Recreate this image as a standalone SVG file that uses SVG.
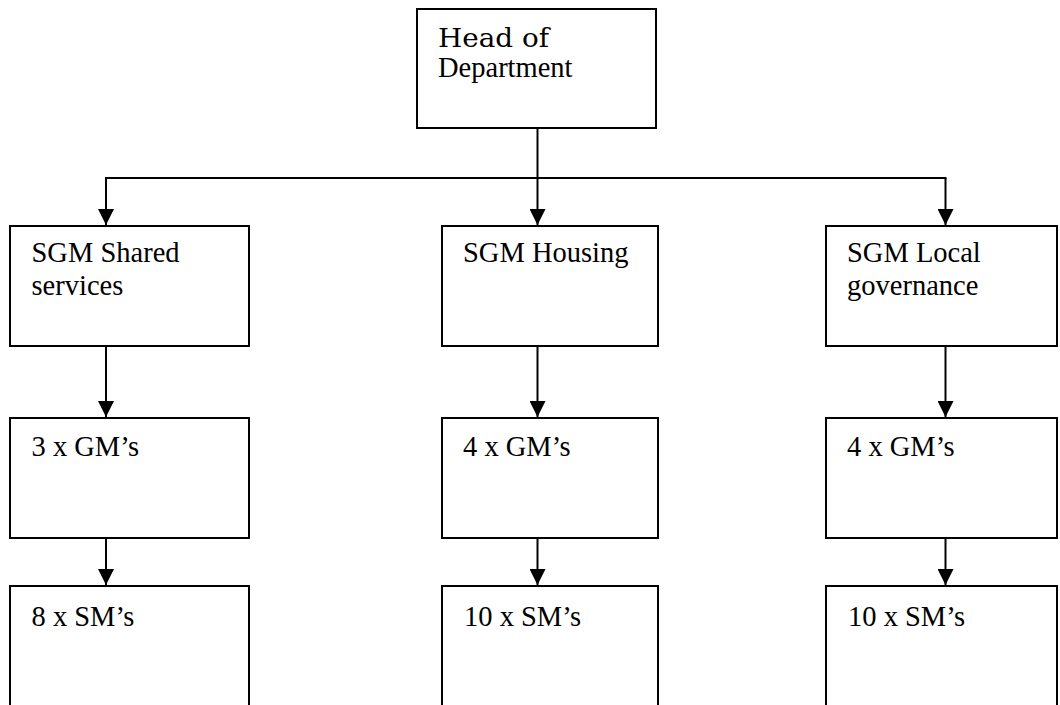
<svg xmlns="http://www.w3.org/2000/svg" width="1060" height="705" viewBox="0 0 1060 705">
<style>
.box{fill:#fff;stroke:#000;stroke-width:2}
.t{font-family:"Liberation Serif","Times New Roman",serif;font-size:28.5px;fill:#000}
.w{font-family:"DejaVu Serif","Liberation Serif",serif;font-size:26.5px;fill:#000}
.c{fill:none;stroke:#000;stroke-width:2}
</style>
<defs>
<marker id="ah" viewBox="0 0 16 16" refX="16" refY="8" markerWidth="16" markerHeight="16" markerUnits="userSpaceOnUse" orient="auto">
<path d="M0,0 L16,8 L0,16 Z" fill="#000"/>
</marker>
</defs>
<rect width="1060" height="705" fill="#fff"/>
<g id="connectors">
<line class="c" x1="537.5" y1="128" x2="537.5" y2="178"/>
<line class="c" x1="105" y1="178" x2="946.5" y2="178"/>
<path class="c" d="M106,178 V225" marker-end="url(#ah)"/>
<path class="c" d="M537.5,178 V225" marker-end="url(#ah)"/>
<path class="c" d="M945.5,178 V225" marker-end="url(#ah)"/>
<path class="c" d="M106,346 V417" marker-end="url(#ah)"/>
<path class="c" d="M537.5,346 V417" marker-end="url(#ah)"/>
<path class="c" d="M945.5,346 V417" marker-end="url(#ah)"/>
<path class="c" d="M106,538 V585" marker-end="url(#ah)"/>
<path class="c" d="M537.5,538 V585" marker-end="url(#ah)"/>
<path class="c" d="M945.5,538 V585" marker-end="url(#ah)"/>
</g>
<g id="head">
<rect class="box" x="417" y="9" width="239" height="119"/>
<text class="w" x="438" y="46.5" textLength="111" lengthAdjust="spacingAndGlyphs">Head of</text>
<text class="t" x="438" y="76.5">Department</text>
</g>
<g id="sgm-shared">
<rect class="box" x="10" y="226" width="239" height="120"/>
<text class="t" x="31.5" y="261.5">SGM Shared</text>
<text class="t" x="31.5" y="295">services</text>
</g>
<g id="sgm-housing">
<rect class="box" x="442" y="226" width="216" height="120"/>
<text class="t" x="463" y="261.5">SGM Housing</text>
</g>
<g id="sgm-local">
<rect class="box" x="826" y="226" width="231" height="120"/>
<text class="t" x="847" y="261.5">SGM Local</text>
<text class="t" x="847" y="295">governance</text>
</g>
<g id="gm-shared">
<rect class="box" x="10" y="418" width="239" height="120"/>
<text class="t" x="31.5" y="456">3 x GM’s</text>
</g>
<g id="gm-housing">
<rect class="box" x="442" y="418" width="216" height="120"/>
<text class="t" x="463" y="456">4 x GM’s</text>
</g>
<g id="gm-local">
<rect class="box" x="826" y="418" width="231" height="120"/>
<text class="t" x="847" y="456">4 x GM’s</text>
</g>
<g id="sm-shared">
<rect class="box" x="10" y="586" width="239" height="130"/>
<text class="t" x="31.5" y="625.5">8 x SM’s</text>
</g>
<g id="sm-housing">
<rect class="box" x="442" y="586" width="216" height="130"/>
<text class="t" x="464" y="625.5">10 x SM’s</text>
</g>
<g id="sm-local">
<rect class="box" x="826" y="586" width="231" height="130"/>
<text class="t" x="848" y="625.5">10 x SM’s</text>
</g>
</svg>
